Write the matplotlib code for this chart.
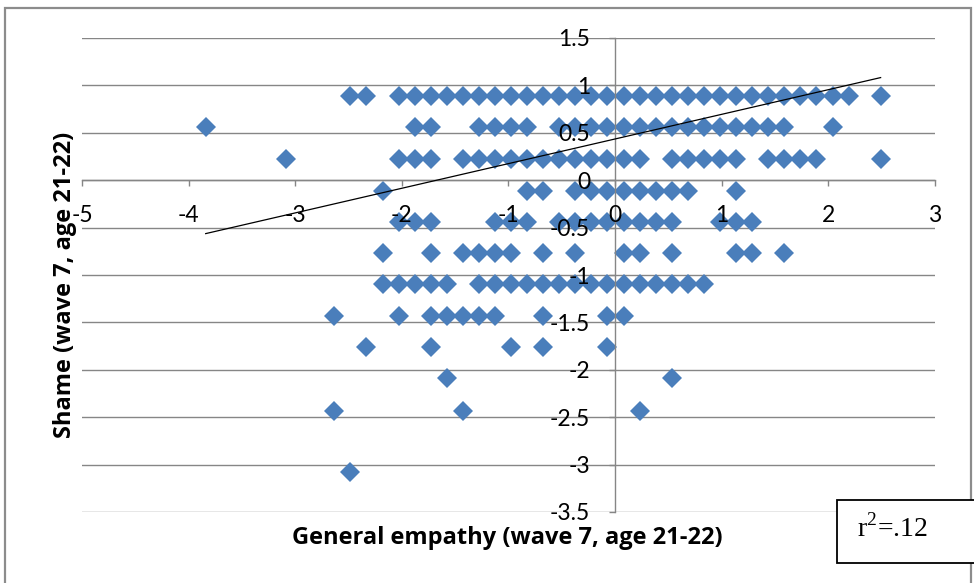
import numpy as np
import matplotlib.pyplot as plt
from matplotlib.patches import Rectangle

plt.rcParams['font.family'] = ['Lato', 'DejaVu Sans']
plt.rcParams['axes.unicode_minus'] = False
plt.rcParams['mathtext.fontset'] = 'custom'
plt.rcParams['mathtext.rm'] = 'Liberation Serif'

# shame score levels (one list of empathy scores per level)
shame_levels = [0.89, 0.56, 0.22, -0.11, -0.44, -0.77, -1.10, -1.43, -1.76, -2.09, -2.43, -3.08]

emp_089 = [-2.49, -2.34, -2.03, -1.88, -1.73, -1.58, -1.43, -1.28, -1.13, -0.98, -0.83, -0.68,
           -0.53, -0.38, -0.23, -0.08, 0.08, 0.23, 0.38, 0.53, 0.68, 0.83, 0.98, 1.13, 1.28,
           1.43, 1.58, 1.73, 1.88, 2.04, 2.19, 2.49]
emp_056 = [-3.84, -1.88, -1.73, -1.28, -1.13, -0.98, -0.83, -0.53, -0.38, -0.23, -0.08, 0.08,
           0.23, 0.38, 0.53, 0.68, 0.83, 0.98, 1.13, 1.28, 1.43, 1.58, 2.04]
emp_022 = [-3.09, -2.03, -1.88, -1.73, -1.43, -1.28, -1.13, -0.98, -0.83, -0.68, -0.53, -0.38,
           -0.23, -0.08, 0.08, 0.23, 0.53, 0.68, 0.83, 0.98, 1.13, 1.43, 1.58, 1.73, 1.88, 2.49]
emp_m011 = [-2.18, -0.83, -0.68, -0.38, -0.23, -0.08, 0.08, 0.23, 0.38, 0.53, 0.68, 1.13]
emp_m044 = [-2.03, -1.88, -1.73, -1.13, -0.98, -0.83, -0.53, -0.38, -0.23, -0.08, 0.08, 0.23,
            0.38, 0.53, 0.98, 1.13, 1.28]
emp_m077 = [-2.18, -1.73, -1.43, -1.28, -1.13, -0.98, -0.68, -0.38, 0.08, 0.23, 0.53, 1.13,
            1.28, 1.58]
emp_m110 = [-2.18, -2.03, -1.88, -1.73, -1.58, -1.28, -1.13, -0.98, -0.83, -0.68, -0.53, -0.38,
            -0.23, -0.08, 0.08, 0.23, 0.38, 0.53, 0.68, 0.83]
emp_m143 = [-2.64, -2.03, -1.73, -1.58, -1.43, -1.28, -1.13, -0.68, -0.08, 0.08]
emp_m176 = [-2.34, -1.73, -0.98, -0.68, -0.08]
emp_m209 = [-1.58, 0.53]
emp_m243 = [-2.64, -1.43, 0.23]
emp_m308 = [-2.49]

emp_rows = [emp_089, emp_056, emp_022, emp_m011, emp_m044, emp_m077,
            emp_m110, emp_m143, emp_m176, emp_m209, emp_m243, emp_m308]

# linear trend line (Excel)
trend_slope = 0.26
trend_intercept = 0.435
r2_label = r'$\mathrm{r}^{2}$=.12'

x_ticks = [-5, -4, -3, -2, -1, 0, 1, 2, 3]
y_ticks = [-3.5, -3, -2.5, -2, -1.5, -1, -0.5, 0, 0.5, 1, 1.5]

x = np.concatenate([np.array(r, dtype=float) for r in emp_rows])
y = np.concatenate([np.full(len(r), lv) for r, lv in zip(emp_rows, shame_levels)])

fig = plt.figure(figsize=(9.74, 5.83), dpi=100)
ax = fig.add_axes([82 / 974, 1 - 512 / 583, (935 - 82) / 974, (512 - 38) / 583])

grey = '#868686'
for yv in y_ticks:
    ax.axhline(yv, color=grey, lw=1.0, zorder=0.5)

ax.plot(x, y, linestyle='none', marker='D', markersize=10.5,
        color='#4A7EBB', markeredgewidth=0, zorder=2)

xt = np.array([x.min(), x.max()])
ax.plot(xt, trend_intercept + trend_slope * xt, color='black', lw=0.9, zorder=3)

ax.set_xlim(-5, 3)
ax.set_ylim(-3.5, 1.5)
ax.set_xticks(x_ticks)
ax.set_xticklabels([str(v) for v in x_ticks])
ax.set_yticks(y_ticks)
ax.set_yticklabels([('%g' % v) for v in y_ticks])

ax.spines['left'].set_position(('data', 0))
ax.spines['bottom'].set_position(('data', 0))
ax.spines['top'].set_visible(False)
ax.spines['right'].set_visible(False)
for s in ('left', 'bottom'):
    ax.spines[s].set_color(grey)
    ax.spines[s].set_linewidth(1.0)

ax.tick_params(axis='x', direction='out', length=4.5, width=1, color=grey,
               labelsize=16.5, pad=13)
ax.tick_params(axis='y', direction='out', length=4.5, width=1, color=grey,
               labelsize=16.5, pad=13.5)
ax.set_axisbelow(False)

label_font = dict(fontsize=17, fontweight='bold', family=['Open Sans', 'DejaVu Sans'], va='center')
ax.set_xlabel('General empathy (wave 7, age 21-22)', **label_font)
ax.xaxis.set_label_coords(0.4988, -0.055)
ax.set_ylabel('Shame (wave 7, age 21-22)', **label_font)
ax.yaxis.set_label_coords(-0.02, 0.479)

# outer chart border
fig.patches.append(Rectangle((5 / 974, -0.05), 966 / 974, 1.05 - 8 / 583,
                             transform=fig.transFigure, fill=False,
                             edgecolor='#8c8c8c', lw=1.6, zorder=0))

# r-squared box
fig.patches.append(Rectangle((837 / 974, 1 - 563 / 583), 0.2, 63 / 583,
                             transform=fig.transFigure, facecolor='white',
                             edgecolor='black', lw=1.3, zorder=10))
fig.text(857 / 974, 1 - 528 / 583, r2_label, fontsize=20, va='center', ha='left',
         family='Liberation Serif', zorder=11)

fig.savefig('out.png', dpi=100)
